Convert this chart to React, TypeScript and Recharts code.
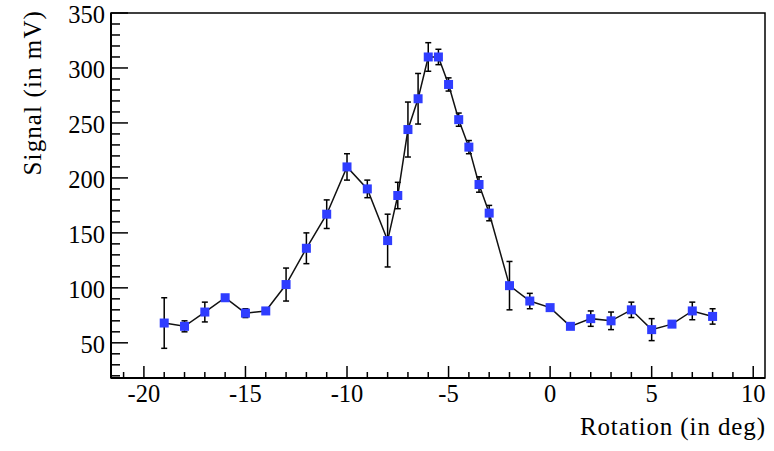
import React from "react";
import {
  ComposedChart,
  Line,
  XAxis,
  YAxis,
  ErrorBar,
  ReferenceArea,
} from "recharts";

// rotation angle (deg) and measured signal (mV) with its error
const rotation = [
  -19, -18, -17, -16, -15, -14, -13, -12, -11, -10, -9, -8, -7.5, -7, -6.5, -6,
  -5.5, -5, -4.5, -4, -3.5, -3, -2, -1, 0, 1, 2, 3, 4, 5, 6, 7, 8,
];
const signal = [
  68, 65, 78, 91, 77, 79, 103, 136, 167, 210, 190, 143, 184, 244, 272, 310,
  310, 285, 253, 228, 194, 168, 102, 88, 82, 65, 72, 70, 80, 62, 67, 79, 74,
];
const signalErr = [
  23, 5, 9, 2, 4, 2, 15, 14, 13, 12, 8, 24, 12, 25, 23, 13, 7, 6, 6, 6, 7, 7,
  22, 7, 2, 2, 7, 8, 7, 10, 2, 8, 7,
];

const xTicks = [
  -21, -20, -19, -18, -17, -16, -15, -14, -13, -12, -11, -10, -9, -8, -7, -6,
  -5, -4, -3, -2, -1, 0, 1, 2, 3, 4, 5, 6, 7, 8, 9, 10,
];
const yTicks = [
  20, 30, 40, 50, 60, 70, 80, 90, 100, 110, 120, 130, 140, 150, 160, 170, 180,
  190, 200, 210, 220, 230, 240, 250, 260, 270, 280, 290, 300, 310, 320, 330,
  340, 350,
];

const X_DOMAIN: [number, number] = [-21.62, 10.58];
const Y_DOMAIN: [number, number] = [18, 350];
const FONT = "'Liberation Serif', 'Times New Roman', serif";

const data = rotation.map((x, i) => ({ x, y: signal[i], err: signalErr[i] }));

function XTick(props: any) {
  const { x, y, payload } = props;
  const v = payload.value;
  const major = v % 5 === 0;
  return (
    <g>
      <line x1={x} x2={x} y1={y} y2={y - (major ? 12 : 6)} stroke="#000" strokeWidth={1.5} />
      {major && (
        <text x={x} y={y + 24} textAnchor="middle" fontSize={24.5} fontFamily={FONT} fill="#000">
          {v}
        </text>
      )}
    </g>
  );
}

function YTick(props: any) {
  const { x, y, payload } = props;
  const v = payload.value;
  const major = v % 50 === 0;
  return (
    <g>
      <line x1={x} x2={x + (major ? 17 : 9)} y1={y} y2={y} stroke="#000" strokeWidth={1.5} />
      {major && (
        <text x={x - 6} y={y + 10} textAnchor="end" fontSize={24.5} fontFamily={FONT} fill="#000">
          {v}
        </text>
      )}
    </g>
  );
}

function SquareDot(props: any) {
  const { cx, cy } = props;
  if (cx == null || cy == null) return null;
  return <rect x={cx - 4.5} y={cy - 4.5} width={9} height={9} fill="#2f3dff" />;
}

export default function App() {
  return (
    <div style={{ position: "absolute", left: 0, top: 0, background: "#fff" }}>
      <ComposedChart
        width={774}
        height={451}
        data={data}
        margin={{ top: 13, right: 9, left: 0, bottom: 0 }}
      >
        <ReferenceArea
          x1={X_DOMAIN[0]}
          x2={X_DOMAIN[1]}
          y1={Y_DOMAIN[0]}
          y2={Y_DOMAIN[1]}
          fill="none"
          fillOpacity={0}
          stroke="#000"
          strokeWidth={1.5}
        />
        <XAxis
          type="number"
          dataKey="x"
          domain={X_DOMAIN}
          allowDataOverflow
          ticks={xTicks}
          interval={0}
          tickLine={false}
          tickSize={0}
          tickMargin={0}
          tick={(p: any) => <XTick {...p} />}
          axisLine={{ stroke: "#000", strokeWidth: 2 }}
          height={73}
          label={{
            content: () => (
              <text
                x={766}
                y={435}
                textAnchor="end"
                fontSize={25}
                letterSpacing={0.9}
                fontFamily={FONT}
                fill="#000"
              >
                Rotation (in deg)
              </text>
            ),
          }}
        />
        <YAxis
          type="number"
          domain={Y_DOMAIN}
          allowDataOverflow
          ticks={yTicks}
          interval={0}
          tickLine={false}
          tickSize={0}
          tickMargin={0}
          tick={(p: any) => <YTick {...p} />}
          axisLine={{ stroke: "#000", strokeWidth: 2 }}
          width={111}
          label={{
            content: () => (
              <text
                x={0}
                y={0}
                transform="translate(41 10) rotate(-90)"
                textAnchor="end"
                fontSize={25}
                letterSpacing={1.1}
                fontFamily={FONT}
                fill="#000"
              >
                Signal (in mV)
              </text>
            ),
          }}
        />
        <Line
          type="linear"
          dataKey="y"
          stroke="#111"
          strokeWidth={1.5}
          dot={(p: any) => <SquareDot key={p.index} {...p} />}
          activeDot={false}
          isAnimationActive={false}
        >
          <ErrorBar dataKey="err" width={3} stroke="#000" strokeWidth={1.5} direction="y" />
        </Line>
      </ComposedChart>
    </div>
  );
}
